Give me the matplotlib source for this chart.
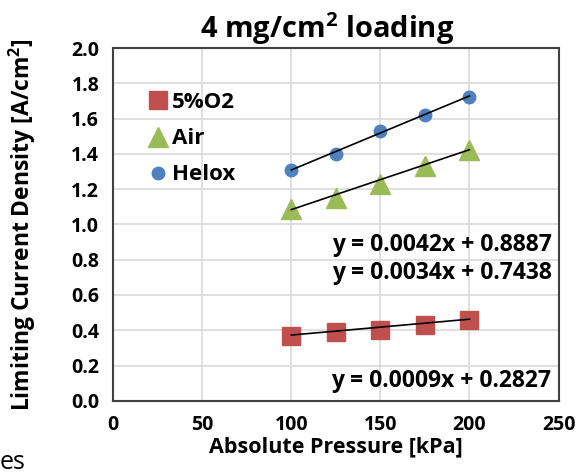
import matplotlib
matplotlib.use("Agg")
import matplotlib.pyplot as plt
import numpy as np

pressure = [100, 125, 150, 175, 200]
o2_5 = [0.37, 0.39, 0.40, 0.43, 0.46]
air = [1.09, 1.15, 1.23, 1.33, 1.42]
helox = [1.31, 1.40, 1.53, 1.62, 1.72]
series_names = ["5%O2", "Air", "Helox"]
fit_slopes = [0.0009, 0.0034, 0.0042]
fit_intercepts = [0.2827, 0.7438, 0.8887]
x_ticks = [0, 50, 100, 150, 200, 250]
y_ticks = [0.0, 0.2, 0.4, 0.6, 0.8, 1.0, 1.2, 1.4, 1.6, 1.8, 2.0]

plt.rcParams['font.family'] = ['Open Sans', 'DejaVu Sans']
plt.rcParams['mathtext.fontset'] = 'custom'
plt.rcParams['mathtext.bf'] = 'Open Sans:bold'
fig = plt.figure(figsize=(5.77, 4.76), dpi=100)
ax = fig.add_axes([0.196, 0.158, 0.772, 0.741])

colors = ["#C0504D", "#9BBB59", "#4F81BD"]
markers = ["s", "^", "o"]
msizes = [12.5, 14, 9]
data = [o2_5, air, helox]
for d, c, m, ms, name, k, b in zip(data, colors, markers, msizes, series_names, fit_slopes, fit_intercepts):
    ax.plot(pressure, d, linestyle='none', marker=m, color=c, markersize=ms, label=name, zorder=3)
    xs = np.array([pressure[0], pressure[-1]])
    ax.plot(xs, k * xs + b, color='black', lw=1.2, zorder=4)

ax.set_xlim(0, 250)
ax.set_ylim(0, 2.0)
ax.set_xticks(x_ticks)
ax.set_yticks(y_ticks)
ax.set_yticklabels([f"{v:.1f}" for v in y_ticks])
ax.tick_params(length=0, labelsize=14, pad=10)
for lab in ax.get_xticklabels() + ax.get_yticklabels():
    lab.set_fontweight('bold')
ax.grid(True, color='#d9d9d9', lw=1.2)
ax.set_axisbelow(True)
for s in ax.spines.values():
    s.set_color('#404040')
    s.set_linewidth(1.5)

ax.set_xlabel("Absolute Pressure [kPa]", fontsize=15.5, fontweight='bold', labelpad=1)
ax.set_ylabel("Limiting Current Density [A/cm$^\\mathbf{2}$]", fontsize=16.5, fontweight='bold', labelpad=24)
ax.set_title("4 mg/cm$^\\mathbf{2}$ loading", fontsize=21, fontweight='bold', pad=7, x=0.48)

eq_texts = [f"y = {k:.4f}x + {b:.4f}" for k, b in zip(fit_slopes, fit_intercepts)]
ax.text(246, 0.113, eq_texts[0], ha='right', va='center', fontsize=16.5, fontweight='bold')
ax.text(246, 0.884, eq_texts[2], ha='right', va='center', fontsize=16.5, fontweight='bold')
ax.text(246, 0.725, eq_texts[1], ha='right', va='center', fontsize=16.5, fontweight='bold')

leg = ax.legend(loc='upper left', bbox_to_anchor=(0.055, 0.9), frameon=False,
                prop={'size': 16, 'weight': 'bold'}, handletextpad=0.15,
                labelspacing=0.68, handlelength=1.0, borderaxespad=0)

fig.text(0.0, 0.003, "es", fontsize=18, ha='left', va='bottom')
fig.savefig("out.png", dpi=100)
